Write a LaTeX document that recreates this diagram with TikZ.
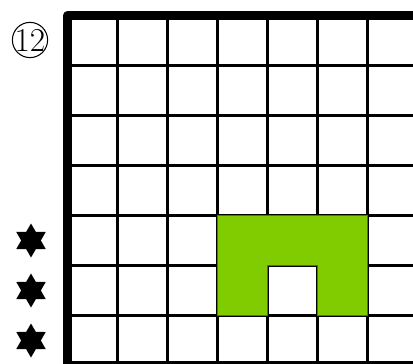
\documentclass[tikz,border=0pt]{standalone}
\usepackage{fontspec}
\usepackage{tikz}
\usetikzlibrary{shapes.geometric}

\definecolor{cellgreen}{RGB}{128,204,0}

\begin{document}
\begin{tikzpicture}[
  x=1cm, y=-1cm,
  gridline/.style={line width=1.5pt,black},
  border/.style={line width=5pt,black,line join=round},
  hexstar/.style={star, star points=6, star point ratio=1.73,
    fill=black, draw=none, inner sep=0pt, minimum size=0.68cm},
  clue/.style={circle, draw, line width=0.6pt, inner sep=-0.5pt,
    font=\fontsize{19}{19}\selectfont}
  ]
  \useasboundingbox (-1.35,-0.31) rectangle (6.91,6.97);

  % board
  \draw[gridline] (0,0) grid (7,7);
  \fill[cellgreen, draw=cellgreen!60!black, line width=0.4pt]
    (3,4) -- (6,4) -- (6,6) -- (5,6) -- (5,5) -- (4,5) -- (4,6) -- (3,6) -- cycle;
  \draw[border] (0,0) rectangle (7,7);

  % clues
  \node (num) [clue] at (-0.75,0.49) {12};
  \foreach \r in {4,5,6}
    \node (star\r) [hexstar] at (-0.73,\r+0.5) {};
\end{tikzpicture}
\end{document}
